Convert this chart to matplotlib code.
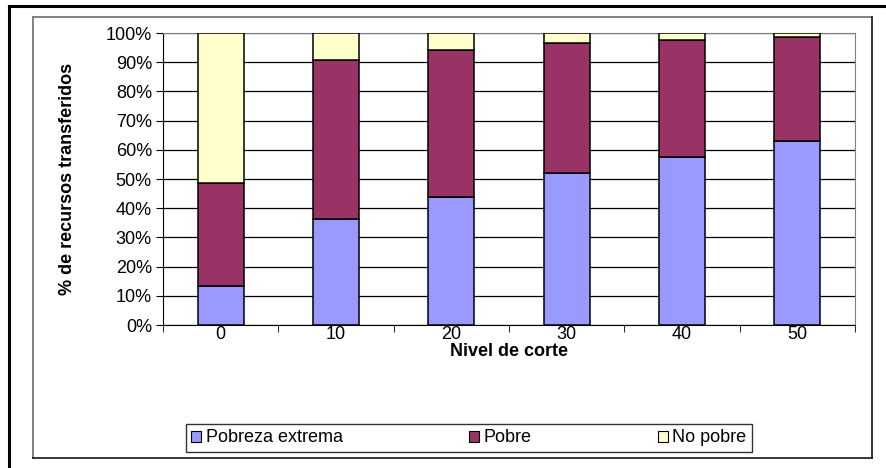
import numpy as np
import matplotlib
matplotlib.use("Agg")
import matplotlib.pyplot as plt
from matplotlib.lines import Line2D
from matplotlib.patches import Patch

plt.rcParams['font.family'] = ['Liberation Sans', 'DejaVu Sans']

niveles = ['0', '10', '20', '30', '40', '50']
pobreza_extrema = [13.4, 36.3, 43.8, 52.1, 57.4, 63.1]
pobre = [35.3, 54.5, 50.4, 44.5, 40.2, 35.4]
no_pobre = [51.3, 9.2, 5.8, 3.4, 2.4, 1.5]

series = [
    ('Pobreza extrema', pobreza_extrema, '#9999ff'),
    ('Pobre', pobre, '#993366'),
    ('No pobre', no_pobre, '#ffffcc'),
]

W, H = 886, 468
fig = plt.figure(figsize=(W / 100, H / 100), dpi=100)


def fx(px):
    return px / W


def fy(py):
    return 1 - py / H


# outer frame (thick, runs off the right and bottom)
fig.add_artist(Line2D([fx(9), fx(9)], [fy(6), 0], color='black', lw=2.2))
fig.add_artist(Line2D([fx(9), 1], [fy(6), fy(6)], color='black', lw=2.2))
# chart area frame
fig.add_artist(Line2D([fx(33), fx(33)], [fy(17), fy(458)], color='#808080', lw=1.4))
fig.add_artist(Line2D([fx(33), fx(872)], [fy(17), fy(17)], color='#808080', lw=1.4))
fig.add_artist(Line2D([fx(872), fx(872)], [fy(17), fy(458)], color='black', lw=1.1))
fig.add_artist(Line2D([fx(33), fx(872)], [fy(458), fy(458)], color='black', lw=1.1))

ax = fig.add_axes([fx(163), fy(325), fx(855 - 163), (325 - 33) / H])

x = np.arange(len(niveles))
bottom = np.zeros(len(niveles))
for name, vals, col in series:
    ax.bar(x, vals, width=0.4, bottom=bottom, color=col, edgecolor='black',
           linewidth=1.1, label=name, zorder=3)
    bottom += np.array(vals)

fs = 13
ax.set_xlim(-0.5, len(niveles) - 0.5)
ax.set_ylim(0, 100)
ax.set_yticks(np.arange(0, 101, 10))
ax.set_yticklabels([f'{v}%' for v in range(0, 101, 10)], fontsize=fs)
ax.set_xticks(x)
ax.set_xticklabels(niveles, fontsize=fs)
ax.set_xticks(np.arange(-0.5, len(niveles)), minor=True)
ax.tick_params(axis='x', which='major', length=0, pad=1)
ax.tick_params(axis='x', which='minor', length=5, direction='out', color='black')
ax.tick_params(axis='y', length=5, direction='out', color='black', pad=3)

ax.grid(axis='y', color='black', lw=0.9, zorder=0)
for s in ['top', 'right']:
    ax.spines[s].set_color('#808080')
for s in ['left', 'bottom']:
    ax.spines[s].set_color('black')

ax.set_xlabel('Nivel de corte', fontsize=fs, fontweight='bold', labelpad=0)
ax.set_ylabel('% de recursos transferidos', fontsize=fs, fontweight='bold', labelpad=21)

handles = [Patch(facecolor=c, edgecolor='black', linewidth=0.8) for _, _, c in series]
leg = fig.legend(handles, [n for n, _, _ in series], loc='center',
                 bbox_to_anchor=(fx(469), fy(438)), ncol=3, frameon=True,
                 fancybox=False, edgecolor='black', fontsize=fs,
                 handlelength=0.55, handleheight=0.55, handletextpad=0.25,
                 columnspacing=7.0, borderpad=0.3, borderaxespad=0)
leg.get_frame().set_linewidth(1.0)

fig.savefig('out.png', dpi=100)
